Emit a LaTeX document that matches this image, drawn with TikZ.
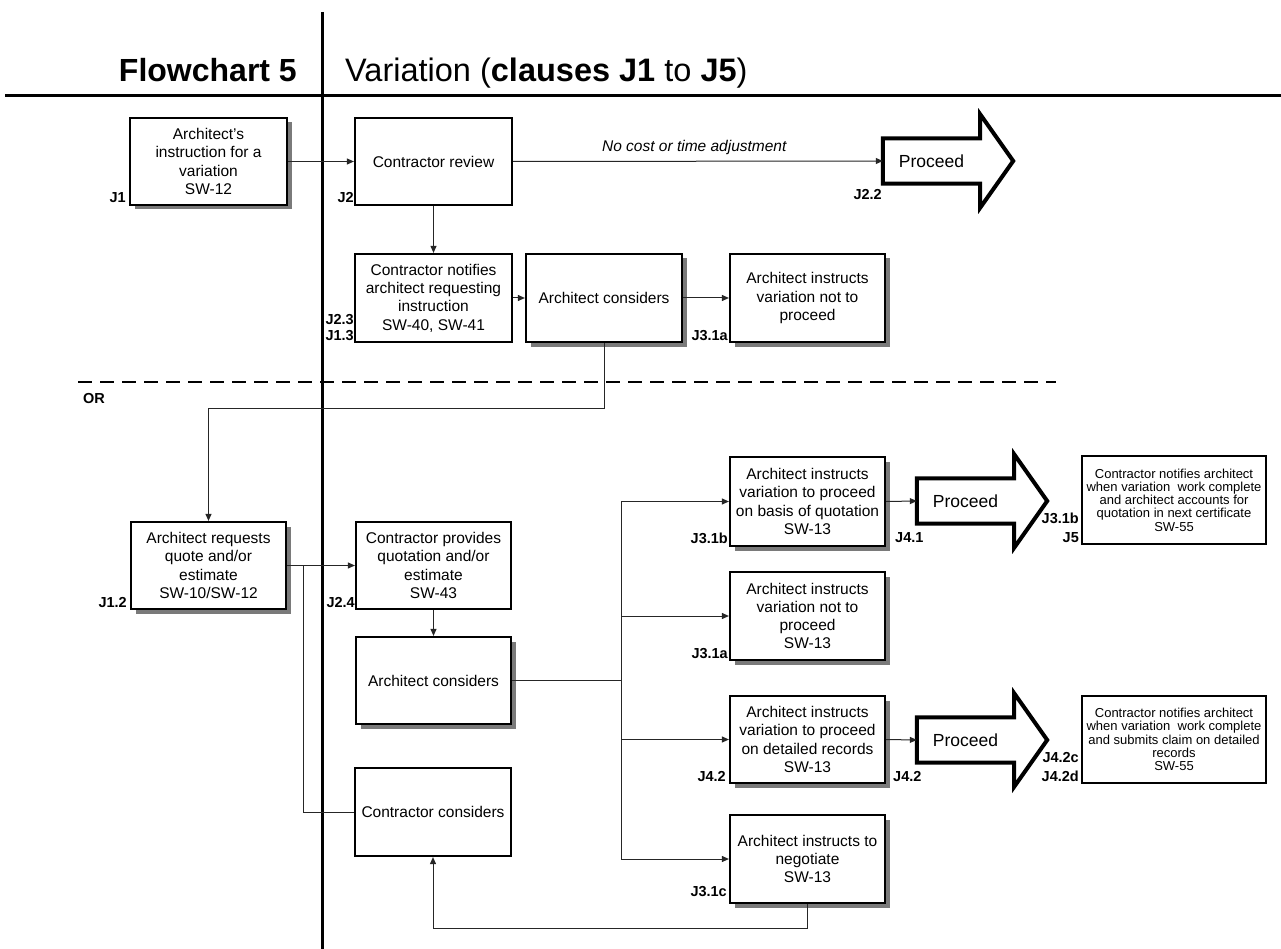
\documentclass[tikz,border=0pt]{standalone}
\usepackage{fontspec}
\setmainfont{Liberation Sans}
\usetikzlibrary{arrows.meta,shadows,calc}

% outline of a "Proceed" block arrow drawn around an (invisible) body node
\newcommand\procoutline[1]{%
  \path[procline] (#1.north west) -- (#1.north east) -- ++(0,-24)
    -- ($(#1.east)+(33,0)$) -- ($(#1.south east)+(0,24)$)
    -- (#1.south east) -- (#1.south west) -- cycle;}

\begin{document}
\begin{tikzpicture}[x=1pt,y=-1pt,
  box/.style={draw=black,line width=2.2pt,fill=white,minimum width=155pt,
    minimum height=88pt,inner sep=2pt,align=center,
    font=\fontsize{15.5pt}{18.3pt}\selectfont},
  shbox/.style={box,drop shadow={shadow xshift=4.5pt,shadow yshift=-4.5pt,
    fill=black!65,opacity=.8}},
  fbox/.style={draw=black,line width=2pt,fill=white,minimum width=184pt,
    minimum height=88pt,inner sep=1pt,align=center,
    font=\fontsize{13pt}{13.3pt}\selectfont},
  jlab/.style={inner sep=0pt,font=\fontsize{14.5pt}{16pt}\selectfont\bfseries},
  conn/.style={draw=black!85,line width=1pt},
  arr/.style={conn,-{Triangle[length=7pt,width=6pt]}},
  procbody/.style={inner sep=0pt,minimum width=97pt,minimum height=45pt},
  proctext/.style={inner sep=0pt,font=\fontsize{17.5pt}{20pt}\selectfont},
  procline/.style={draw=black,fill=white,line width=4pt,line join=miter},
  rule/.style={line width=3pt}
]
\useasboundingbox[fill=white] (0,0) rectangle (1281,949);

% frame rules and heading
\draw[rule] (322,12) -- (322,949);
\draw[rule] (5,96) -- (1281,96);
\node[anchor=base east,inner sep=0pt,font=\fontsize{32pt}{35pt}\selectfont\bfseries]
  (ttl) at (297,82) {Flowchart 5};
\node[anchor=base west,inner sep=0pt,font=\fontsize{32.5pt}{35pt}\selectfont]
  (sub) at (345,82) {Variation (\textbf{clauses J1} to \textbf{J5})};

% separator between the two routes
\draw[line width=2.5pt,dash pattern=on 14pt off 8pt] (78,382) -- (1056,382);
\node[jlab,anchor=base west] (or) at (83,403) {OR};

% ---- upper route
\node[shbox,minimum width=157pt,minimum height=87pt] (j1) at (208.5,161.5)
  {Architect’s\\instruction for a\\variation\\SW-12};
\node[box,minimum width=157pt,minimum height=87pt] (rev) at (433.5,161.5)
  {Contractor review};
\node[box,minimum width=157pt] (notif) at (433.5,298)
  {Contractor notifies\\architect requesting\\instruction\\SW-40, SW-41};
\node[shbox,minimum width=156pt] (acon1) at (604,298) {Architect considers};
\node[shbox] (notp1) at (807.5,298) {Architect instructs\\variation not to\\proceed};

\node[procbody] (p1) at (931.5,161) {};
\procoutline{p1}
\node[proctext] (p1t) at (p1.center) {Proceed};

\draw[arr] (j1.east) -- (rev.west);
\draw[arr] (rev.east) -- (p1.west)
  node[pos=0.49,above=6pt,inner sep=0pt,
       font=\fontsize{15.5pt}{18pt}\selectfont\itshape] (nocost)
  {No cost or time adjustment};
\draw[arr] (rev.south) -- (notif.north);
\draw[arr] (notif.east) -- (acon1.west);
\draw[arr] (acon1.east) -- (notp1.west);

\node[jlab,anchor=base east] (l1) at (126,203) {J1};
\node[jlab,anchor=base east] (l2) at (354,203) {J2};
\node[jlab,anchor=base east] (l23) at (354,324) {J2.3};
\node[jlab,anchor=base east] (l13) at (354,340) {J1.3};
\node[jlab,anchor=base east] (l31a) at (728,340) {J3.1a};
\node[jlab,anchor=base east] (l22) at (882,200) {J2.2};

% ---- lower route
\node[shbox,minimum height=87pt] (req) at (208.5,565.5)
  {Architect requests\\quote and/or\\estimate\\SW-10/SW-12};
\node[box,minimum height=87pt] (prov) at (433.5,565.5)
  {Contractor provides\\quotation and/or\\estimate\\SW-43};
\node[shbox,minimum height=87pt] (acon2) at (433.5,680.5) {Architect considers};
\node[box,minimum width=156pt] (ccon) at (433,812) {Contractor considers};

\node[shbox,minimum height=89pt] (quot) at (807.5,501.5)
  {Architect instructs\\variation to proceed\\on basis of quotation\\SW-13};
\node[shbox] (notp2) at (807.5,616)
  {Architect instructs\\variation not to\\proceed\\SW-13};
\node[shbox,minimum height=87pt] (det) at (807.5,739.5)
  {Architect instructs\\variation to proceed\\on detailed records\\SW-13};
\node[shbox] (neg) at (807.5,859)
  {Architect instructs to\\negotiate\\SW-13};

\node[procbody] (p2) at (965.5,501) {};
\procoutline{p2}
\node[proctext] (p2t) at (p2.center) {Proceed};
\node[procbody] (p3) at (965.5,740) {};
\procoutline{p3}
\node[proctext] (p3t) at (p3.center) {Proceed};

\node[fbox] (fin1) at (1174,500)
  {Contractor notifies architect\\when variation\ \ work complete\\and architect accounts for\\quotation in next certificate\\SW-55};
\node[fbox,minimum height=87pt] (fin2) at (1174,739.5)
  {Contractor notifies architect\\when variation\ \ work complete\\and submits claim on detailed\\records\\SW-55};

% connectors of the lower route
\coordinate (bx) at (621,0);
\coordinate (bb) at (303,0);
\draw[arr] (acon1.south) -- ++(0,65) -| (req.north);
\draw[arr] (req.east) -- (prov.west);
\draw[conn] (bb |- req.east) |- (ccon.west);
\draw[arr] (prov.south) -- (acon2.north);
\draw[conn] (acon2.east) -- (bx |- acon2.east);
\draw[conn] (bx |- quot.west) -- (bx |- neg.west);
\draw[arr] (bx |- quot.west) -- (quot.west);
\draw[arr] (bx |- notp2.west) -- (notp2.west);
\draw[arr] (bx |- det.west) -- (det.west);
\draw[arr] (bx |- neg.west) -- (neg.west);
\draw[arr] (quot.east) -- (p2.west);
\draw[arr] (det.east) -- (p3.west);
\draw[arr] (neg.south) -- ++(0,24) -| (ccon.south);

\node[jlab,anchor=base east] (l12) at (127,607) {J1.2};
\node[jlab,anchor=base east] (l24) at (355,607) {J2.4};
\node[jlab,anchor=base east] (l31b) at (728,543) {J3.1b};
\node[jlab,anchor=base west] (l41) at (895,542) {J4.1};
\node[jlab,anchor=base east] (l31bb) at (1079,523) {J3.1b};
\node[jlab,anchor=base east] (l5) at (1079,542) {J5};
\node[jlab,anchor=base east] (l31a2) at (728,658) {J3.1a};
\node[jlab,anchor=base east] (l42a) at (726,781) {J4.2};
\node[jlab,anchor=base west] (l42b) at (893,781) {J4.2};
\node[jlab,anchor=base east] (l42c) at (1079,762) {J4.2c};
\node[jlab,anchor=base east] (l42d) at (1079,781) {J4.2d};
\node[jlab,anchor=base east] (l31c) at (727,896) {J3.1c};
\end{tikzpicture}
\end{document}
